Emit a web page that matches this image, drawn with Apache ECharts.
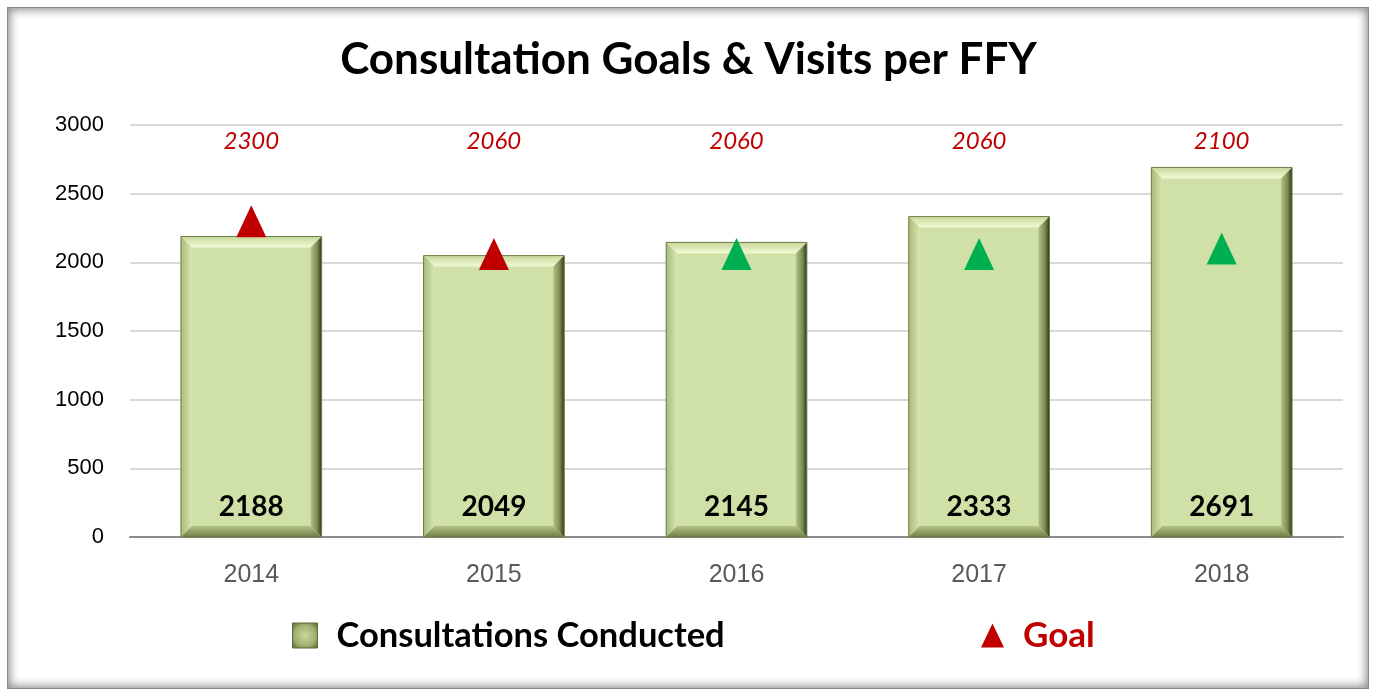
<!DOCTYPE html>
<html>
<head>
<meta charset="utf-8">
<script src="https://cdn.jsdelivr.net/npm/echarts@6/dist/echarts.min.js"></script>
<style>
  html, body { margin: 0; padding: 0; background: #fff; }
  #wrap { position: relative; width: 1377px; height: 694px; }
  #chart { width: 1377px; height: 694px; }
  /* gray shadow frame around the chart area */
  #frame {
    position: absolute; left: 7px; top: 7px; width: 1362px; height: 682px;
    border: 1px solid #8a8a8a; box-sizing: border-box;
    box-shadow: inset 0 0 10px 2px rgba(0, 0, 0, 0.45);
    pointer-events: none;
  }
</style>
</head>
<body>
<div id="wrap">
  <div id="chart"></div>
  <div id="frame"></div>
</div>
<script>
// 年度
const years = ['2014', '2015', '2016', '2017', '2018'];
// 实际咨询次数
const conducted = [2188, 2049, 2145, 2333, 2691];
// 目标
const goals = [2300, 2060, 2060, 2060, 2100];
// y轴刻度
const yTicks = { min: 0, max: 3000, interval: 500 };

const SANS = '"Liberation Sans", Arial, sans-serif';
const BOLD = 'Lato, "Open Sans", sans-serif';
const RED = '#C00000';
const GREEN = '#00B050';

/**
 * @description 画一个斜面效果的柱子
 */
function renderBevelBar(params, api) {
  const idx = api.value(0);
  const val = api.value(1);
  const top = api.coord([idx, val]);
  const base = api.coord([idx, 0]);
  const w = api.size([1, 0])[0] * 0.58;
  const x0 = top[0] - w / 2;
  const x1 = top[0] + w / 2;
  const y0 = top[1];
  const y1 = base[1];
  const b = 11;

  return {
    type: 'group',
    children: [
      {
        type: 'rect',
        shape: { x: x0, y: y0, width: w, height: y1 - y0 },
        style: { fill: '#D0E1A7' }
      },
      {
        // 上边
        type: 'polygon',
        shape: { points: [[x0, y0], [x1, y0], [x1 - b, y0 + b], [x0 + b, y0 + b]] },
        style: {
          fill: new echarts.graphic.LinearGradient(0, 0, 0, 1, [
            { offset: 0, color: '#C7D89A' },
            { offset: 1, color: '#F3FAD6' }
          ])
        }
      },
      {
        // 左边
        type: 'polygon',
        shape: { points: [[x0, y0], [x0 + b, y0 + b], [x0 + b, y1 - b], [x0, y1]] },
        style: {
          fill: new echarts.graphic.LinearGradient(0, 0, 1, 0, [
            { offset: 0, color: '#A9BA7C' },
            { offset: 1, color: '#D6E6AF' }
          ])
        }
      },
      {
        // 右边
        type: 'polygon',
        shape: { points: [[x1, y0], [x1, y1], [x1 - b, y1 - b], [x1 - b, y0 + b]] },
        style: {
          fill: new echarts.graphic.LinearGradient(0, 0, 1, 0, [
            { offset: 0, color: '#B4C488' },
            { offset: 0.6, color: '#7A8A50' },
            { offset: 1, color: '#2E3819' }
          ])
        }
      },
      {
        // 下边
        type: 'polygon',
        shape: { points: [[x0, y1], [x0 + b, y1 - b], [x1 - b, y1 - b], [x1, y1]] },
        style: {
          fill: new echarts.graphic.LinearGradient(0, 0, 0, 1, [
            { offset: 0, color: '#B3C387' },
            { offset: 1, color: '#6F7E45' }
          ])
        }
      },
      {
        type: 'rect',
        shape: { x: x0, y: y0, width: w, height: y1 - y0 },
        style: { fill: 'none', stroke: '#6E7D48', lineWidth: 1 }
      },
      {
        type: 'text',
        style: {
          text: String(val),
          x: top[0],
          y: y1 - 30,
          align: 'center',
          verticalAlign: 'middle',
          fill: '#000',
          font: 'bold 28px ' + BOLD
        }
      }
    ]
  };
}

const goalData = goals.map((g, i) => ({
  value: g,
  itemStyle: { color: conducted[i] >= g ? GREEN : RED }
}));

const chart = echarts.init(document.getElementById('chart'));

chart.setOption({
  backgroundColor: '#fff',
  animation: false,
  title: {
    text: 'Consultation Goals & Visits per FFY',
    left: 'center',
    top: 33,
    textStyle: { fontFamily: BOLD, fontWeight: 'bold', fontSize: 44, color: '#000' }
  },
  grid: { left: 130, right: 34, top: 125, bottom: 157 },
  legend: [
    {
      left: 287,
      top: 613,
      itemWidth: 25,
      itemHeight: 25,
      itemGap: 0,
      textStyle: { fontFamily: BOLD, fontWeight: 'bold', fontSize: 34.5, color: '#000', padding: [0, 0, 0, 14] },
      data: [{
        name: 'Consultations Conducted',
        icon: 'rect',
        itemStyle: {
          color: new echarts.graphic.RadialGradient(0.5, 0.5, 0.7, [
            { offset: 0, color: '#C9DA9C' },
            { offset: 0.6, color: '#9DAE6E' },
            { offset: 1, color: '#4F5D2C' }
          ]),
          borderColor: '#5E6B3A',
          borderWidth: 1
        }
      }]
    },
    {
      left: 976,
      top: 613,
      itemWidth: 23,
      itemHeight: 24,
      textStyle: { fontFamily: BOLD, fontWeight: 'bold', fontSize: 35, color: RED, padding: [0, 0, 0, 14] },
      data: [{ name: 'Goal', icon: 'triangle', itemStyle: { color: RED, opacity: 1 } }]
    }
  ],
  xAxis: [
    {
      type: 'category',
      data: years,
      axisLine: { lineStyle: { color: '#8C8C8C', width: 2 } },
      axisTick: { show: false },
      axisLabel: { fontFamily: SANS, fontSize: 25, color: '#595959', margin: 26 }
    },
    {
      // 顶部目标数字
      type: 'category',
      position: 'top',
      data: goals.map(String),
      axisLine: { show: false },
      axisTick: { show: false },
      axisLabel: {
        inside: true,
        margin: 4,
        fontFamily: BOLD,
        fontStyle: 'italic',
        fontSize: 24,
        color: RED
      }
    }
  ],
  yAxis: {
    type: 'value',
    min: yTicks.min,
    max: yTicks.max,
    interval: yTicks.interval,
    axisLine: { show: false },
    axisTick: { show: false },
    splitLine: { lineStyle: { color: '#D9D9D9', width: 2 } },
    axisLabel: {
      fontFamily: SANS,
      fontSize: 22,
      color: '#000',
      margin: 26,
      formatter: v => String(v)
    }
  },
  series: [
    {
      name: 'Consultations Conducted',
      type: 'custom',
      renderItem: renderBevelBar,
      encode: { x: 0, y: 1 },
      data: conducted.map((v, i) => [i, v]),
      z: 2
    },
    {
      name: 'Goal',
      type: 'scatter',
      symbol: 'triangle',
      symbolSize: [30, 32],
      itemStyle: { color: RED, opacity: 1 },
      data: goalData,
      z: 3
    }
  ]
});
</script>
</body>
</html>
